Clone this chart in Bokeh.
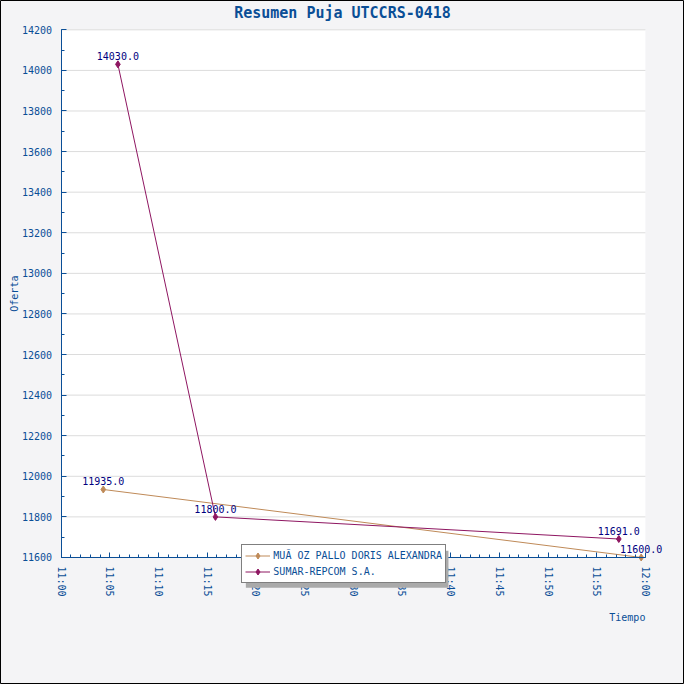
import pandas as pd
from bokeh.plotting import figure
from bokeh.core.properties import value
from bokeh.models import (ColumnDataSource, FixedTicker, DatetimeTickFormatter, Legend, LegendItem,
                          LabelSet, Label, BoxAnnotation, Range1d)
from bokeh.embed import file_html
from bokeh.resources import INLINE

# ---- data ----
munoz_times = ["2018-04-18 11:04:20", "2018-04-18 11:59:34"]
munoz_values = [11935.0, 11600.0]
sumar_times = ["2018-04-18 11:05:50", "2018-04-18 11:15:51", "2018-04-18 11:57:16"]
sumar_values = [14030.0, 11800.0, 11691.0]
series_names = ["MUÃ OZ PALLO DORIS ALEXANDRA", "SUMAR-REPCOM S.A."]
series_colors = ["#BF8A58", "#8E1661"]
title_text = "Resumen Puja UTCCRS-0418"
x_label = "Tiempo"
y_label = "Oferta"
y_ticks = list(range(11600, 14201, 200))
y_minor = list(range(11600, 14201, 100))
x_start, x_end = "2018-04-18 11:00", "2018-04-18 12:00"
x_major = pd.date_range(x_start, x_end, freq="5min")
x_minor = pd.date_range(x_start, x_end, freq="1min")

FONT = "DejaVu Sans Mono"
BLUE = "#0A4E96"
NAVY = "#000080"
W = H = 684
S = W / 700.0   # scale from the 700px reference layout

def ms(ts):
    return [pd.Timestamp(t).value / 1e6 for t in ts]

xs_ms, xe_ms = ms([x_start, x_end])
# plot area in reference pixels: x 62..660, y 30..570
px_per_ms = (660 - 62) / (xe_ms - xs_ms)
px_per_val = (570 - 30) / (14200 - 11600)
xr = Range1d(xs_ms - 62 / px_per_ms, xs_ms + (700 - 62) / px_per_ms)
yr = Range1d(11600 - (700 - 570) / px_per_val, 14200 + 30 / px_per_val)

p = figure(x_axis_type="datetime", width=W, height=H,
           min_border=0, output_backend="svg", toolbar_location=None,
           x_range=xr, y_range=yr)
p.border_fill_color = "#F4F4F6"
p.background_fill_color = "#F4F4F6"
p.outline_line_color = "black"
p.outline_line_width = 1
p.xgrid.grid_line_color = None
p.ygrid.grid_line_color = None

# white plot area
p.add_layout(BoxAnnotation(left=xs_ms, right=xe_ms, bottom=11600, top=14200,
                           fill_color="white", fill_alpha=1.0, line_color=None, level="image"))
# horizontal grid lines at the major y ticks
p.segment(x0=[xs_ms] * len(y_ticks), x1=[xe_ms] * len(y_ticks), y0=y_ticks, y1=y_ticks,
          line_color="#DCDCDC", line_width=1)

renderers = []
srcs = []
for t, v, c in [(munoz_times, munoz_values, series_colors[0]), (sumar_times, sumar_values, series_colors[1])]:
    s = ColumnDataSource(dict(x=pd.to_datetime(t), y=v, lbl=[f"{val:.1f}" for val in v]))
    srcs.append(s)
    l = p.line("x", "y", source=s, color=c, line_width=1)
    m = p.scatter("x", "y", source=s, marker="diamond", size=7, color=c)
    renderers.append((l, m))

for s in srcs:
    p.add_layout(LabelSet(x="x", y="y", text="lbl", source=s, text_align="center",
                          text_baseline="bottom", y_offset=4, text_font=value(FONT),
                          text_font_size=value("10px"), text_color=NAVY))

# axes, fixed inside the frame
xa = p.xaxis[0]
xa.fixed_location = 11600
xa.bounds = (xs_ms, xe_ms)
xa.ticker = FixedTicker(ticks=ms(x_major), minor_ticks=ms(x_minor))
xa.formatter = DatetimeTickFormatter(seconds="%H:%M", minsec="%H:%M", minutes="%H:%M",
                                     hourmin="%H:%M", hours="%H:%M", days="%H:%M")
xa.major_label_orientation = "vertical"
ya = p.yaxis[0]
ya.fixed_location = xs_ms
ya.bounds = (11600, 14200)
ya.ticker = FixedTicker(ticks=y_ticks, minor_ticks=y_minor)
for ax in (xa, ya):
    ax.axis_line_color = BLUE
    ax.major_tick_line_color = BLUE
    ax.minor_tick_line_color = BLUE
    ax.major_tick_in = 5
    ax.major_tick_out = 0
    ax.minor_tick_in = 3
    ax.minor_tick_out = 0
    ax.major_label_text_color = BLUE
    ax.major_label_text_font = FONT
    ax.major_label_text_font_size = "10px"
    ax.major_label_standoff = 9

def sy(y_ref):
    return H - y_ref * S

p.add_layout(Label(x=660 * S, y=sy(631), x_units="screen", y_units="screen", text=x_label,
                   text_align="right", text_baseline="middle", text_font=FONT,
                   text_font_size="10px", text_color=BLUE))
p.add_layout(Label(x=14 * S, y=sy(300), x_units="screen", y_units="screen", text=y_label,
                   angle=90, angle_units="deg",
                   text_align="center", text_baseline="middle", text_font=FONT,
                   text_font_size="10px", text_color=BLUE))
p.add_layout(Label(x=350 * S, y=sy(13), x_units="screen", y_units="screen", text=title_text,
                   text_align="center", text_baseline="middle", text_font=FONT,
                   text_font_size="15px", text_font_style="bold", text_color=BLUE))

# legend with shadow
leg_left, leg_bottom = 247 * S, sy(597)
leg_w, leg_h = 202.6, 37
p.add_layout(BoxAnnotation(left=leg_left + 4, right=leg_left + 4 + leg_w,
                           bottom=leg_bottom - 4, top=leg_bottom - 4 + leg_h,
                           left_units="screen", right_units="screen",
                           bottom_units="screen", top_units="screen",
                           fill_color="#AAAAAA", fill_alpha=1.0, line_color=None))

legend = Legend(items=[LegendItem(label=series_names[i], renderers=list(renderers[i])) for i in range(2)],
                location=(leg_left, leg_bottom), padding=3, spacing=1, glyph_height=15, label_height=15,
                glyph_width=25, label_standoff=3, margin=0,
                label_text_font=FONT, label_text_font_size="10px", label_text_color=BLUE,
                border_line_color="black", border_line_width=1, background_fill_color="white",
                background_fill_alpha=1.0)
p.add_layout(legend, "center")

open("out.html", "w").write(file_html(p, INLINE))
